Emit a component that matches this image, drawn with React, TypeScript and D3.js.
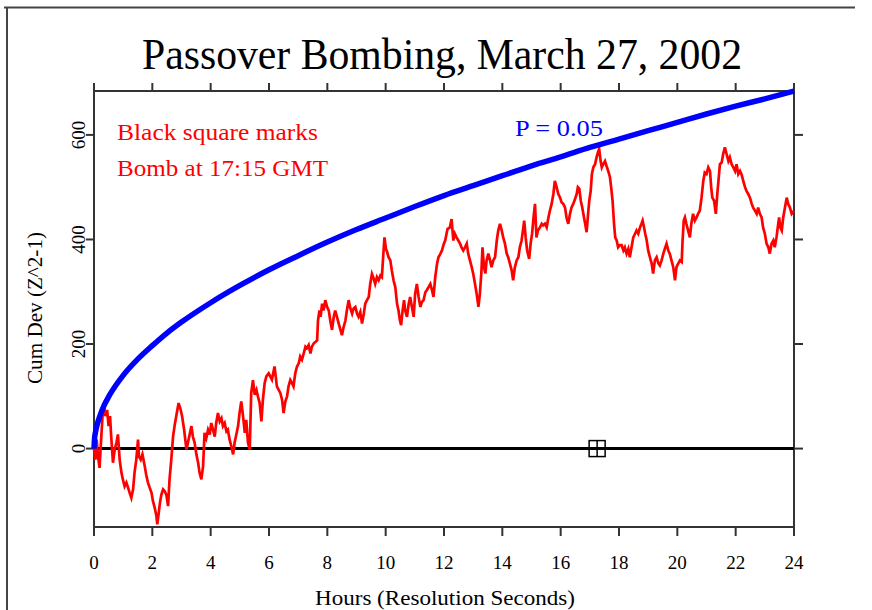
import React from "react";
import * as d3 from "d3";

const title = "Passover Bombing, March 27, 2002";
const xLabel = "Hours (Resolution Seconds)";
const yLabel = "Cum Dev (Z^2-1)";
const legendLines = ["Black square marks", "Bomb at 17:15 GMT"];
const pLabel = "P = 0.05";

const xTicks = [0, 2, 4, 6, 8, 10, 12, 14, 16, 18, 20, 22, 24];
const yTicks = [0, 200, 400, 600];
const xDomain = [0, 24];
const yDomain = [-150, 684];
const bombHour = 17.25;

const blueHours = [0, 0.02, 0.05, 0.1, 0.2, 0.35, 0.5, 0.75, 1, 1.5, 2, 2.5, 3, 4, 5, 6, 7, 8, 9, 10, 11, 12, 13, 14, 15, 16, 17, 18, 19, 20, 21, 22, 23, 24];
const blueValues = [0, 20, 31, 44, 62, 83, 99, 121, 140, 171, 197, 221, 242, 279, 312, 342, 369, 395, 419, 441, 463, 484, 503, 522, 541, 558, 576, 592, 608, 624, 640, 655, 669, 684];

const redHours = [
  0, 0.05, 0.09, 0.14, 0.19, 0.25, 0.30, 0.34, 0.39, 0.45, 0.50, 0.55, 0.59, 0.65, 0.71, 0.77, 0.82, 0.88, 0.94, 0.99,
  1.05, 1.11, 1.17, 1.22, 1.28, 1.34, 1.39, 1.45, 1.51, 1.54, 1.60, 1.66, 1.74, 1.79, 1.85, 1.91, 1.97, 2.02, 2.08, 2.14,
  2.17, 2.22, 2.26, 2.31, 2.37, 2.42, 2.48, 2.54, 2.59, 2.65, 2.71, 2.77, 2.82, 2.90, 2.96, 3.02, 3.09, 3.17, 3.22, 3.28,
  3.34, 3.39, 3.45, 3.51, 3.57, 3.62, 3.68, 3.74, 3.79, 3.85, 3.91, 3.97, 4.02, 4.08, 4.14, 4.19, 4.25, 4.31, 4.37, 4.42,
  4.48, 4.54, 4.59, 4.65, 4.71, 4.77, 4.82, 4.88, 4.94, 4.99, 5.05, 5.11, 5.17, 5.22, 5.28, 5.34, 5.39, 5.45, 5.51, 5.57,
  5.62, 5.68, 5.74, 5.79, 5.85, 5.91, 5.99, 6.10, 6.19, 6.27, 6.39, 6.45, 6.50, 6.56, 6.62, 6.67, 6.73, 6.79, 6.84, 6.90,
  6.96, 7.02, 7.07, 7.13, 7.19, 7.25, 7.30, 7.36, 7.42, 7.47, 7.53, 7.59, 7.65, 7.68, 7.73, 7.77, 7.82, 7.87, 7.93, 7.99,
  8.05, 8.10, 8.16, 8.22, 8.27, 8.33, 8.39, 8.45, 8.50, 8.56, 8.62, 8.67, 8.73, 8.79, 8.85, 8.90, 8.96, 9.02, 9.07, 9.13,
  9.19, 9.25, 9.30, 9.36, 9.42, 9.47, 9.53, 9.59, 9.64, 9.70, 9.76, 9.82, 9.87, 9.92, 9.96, 10.01, 10.05, 10.10, 10.16, 10.21,
  10.27, 10.33, 10.39, 10.44, 10.49, 10.53, 10.58, 10.63, 10.67, 10.73, 10.79, 10.84, 10.90, 10.96, 11.01, 11.07, 11.13, 11.19, 11.24, 11.30,
  11.36, 11.41, 11.47, 11.53, 11.59, 11.64, 11.70, 11.76, 11.81, 11.87, 11.93, 11.99, 12.04, 12.12, 12.20, 12.26, 12.32, 12.37, 12.43, 12.49,
  12.55, 12.60, 12.66, 12.72, 12.78, 12.83, 12.89, 12.95, 13.00, 13.06, 13.12, 13.18, 13.23, 13.28, 13.32, 13.37, 13.42, 13.46, 13.52, 13.58,
  13.63, 13.69, 13.75, 13.81, 13.86, 13.92, 13.98, 14.03, 14.09, 14.15, 14.20, 14.26, 14.32, 14.37, 14.43, 14.49, 14.55, 14.60, 14.66, 14.72,
  14.75, 14.80, 14.85, 14.92, 14.97, 15.02, 15.07, 15.12, 15.17, 15.22, 15.29, 15.35, 15.40, 15.46, 15.52, 15.58, 15.63, 15.69, 15.75, 15.80,
  15.86, 15.92, 15.98, 16.03, 16.09, 16.15, 16.20, 16.26, 16.32, 16.37, 16.43, 16.49, 16.55, 16.59, 16.64, 16.69, 16.74, 16.80, 16.84, 16.89,
  16.94, 16.98, 17.03, 17.07, 17.12, 17.18, 17.23, 17.29, 17.32, 17.37, 17.41, 17.46, 17.52, 17.57, 17.63, 17.69, 17.73, 17.78, 17.83, 17.87,
  17.92, 17.97, 18.03, 18.09, 18.15, 18.20, 18.26, 18.32, 18.37, 18.43, 18.49, 18.55, 18.60, 18.66, 18.72, 18.77, 18.81, 18.86, 18.90, 18.95,
  19.00, 19.06, 19.12, 19.17, 19.23, 19.29, 19.35, 19.40, 19.46, 19.52, 19.57, 19.63, 19.69, 19.74, 19.80, 19.86, 19.92, 19.97, 20.03, 20.09,
  20.15, 20.18, 20.22, 20.26, 20.31, 20.37, 20.43, 20.48, 20.54, 20.60, 20.66, 20.71, 20.77, 20.83, 20.89, 20.94, 21.00, 21.06, 21.12, 21.16,
  21.20, 21.26, 21.32, 21.37, 21.41, 21.46, 21.52, 21.57, 21.63, 21.69, 21.75, 21.80, 21.86, 21.92, 21.98, 22.03, 22.09, 22.15, 22.20, 22.26,
  22.32, 22.37, 22.43, 22.49, 22.55, 22.60, 22.66, 22.72, 22.77, 22.83, 22.89, 22.94, 23.00, 23.06, 23.12, 23.17, 23.23, 23.29, 23.34, 23.40,
  23.46, 23.49, 23.53, 23.58, 23.63, 23.69, 23.75, 23.80, 23.86, 23.92, 24.00
];
const redValues = [
  0, -21, 17, -15, -37, 23, 68, 84, 62, 74, 43, 62, 23, -27, -2, 11, 27, -21, -46, -59,
  -72, -65, -75, -84, -94, -78, -46, -21, 17, -15, -21, -11, -34, -50, -65, -75, -84, -100, -113, -129,
  -145, -123, -104, -88, -78, -81, -88, -110, -59, -21, 23, 46, 62, 87, 77, 62, 36, -2, 11, 27,
  43, 23, 11, -11, -27, -46, -59, -34, 30, 20, 36, 27, 49, 36, 23, 49, 68, 52, 58, 43,
  49, 33, 36, 17, 4, -11, 11, 27, 43, 68, 90, 62, 30, 55, 11, -2, 106, 131, 103, 112,
  100, 87, 52, 93, 125, 138, 144, 132, 157, 119, 106, 93, 68, 90, 100, 119, 131, 125, 119, 144,
  157, 163, 176, 170, 182, 195, 192, 198, 182, 195, 201, 204, 207, 245, 264, 252, 277, 264, 284, 271,
  264, 245, 227, 252, 264, 252, 239, 227, 217, 233, 245, 264, 284, 268, 258, 268, 271, 258, 252, 261,
  239, 258, 277, 284, 290, 315, 334, 325, 315, 328, 322, 331, 328, 372, 404, 382, 376, 366, 360, 341,
  322, 309, 277, 264, 245, 236, 264, 284, 264, 252, 277, 290, 271, 252, 296, 315, 290, 271, 280, 284,
  299, 303, 309, 315, 303, 290, 328, 353, 366, 372, 379, 391, 398, 420, 423, 439, 398, 411, 404, 398,
  392, 385, 379, 385, 392, 373, 360, 347, 335, 316, 296, 271, 296, 335, 385, 347, 335, 360, 373, 360,
  347, 360, 366, 398, 417, 430, 417, 404, 392, 373, 366, 354, 341, 322, 347, 360, 366, 385, 398, 423,
  436, 404, 379, 363, 392, 411, 442, 468, 404, 417, 423, 430, 427, 430, 423, 442, 455, 468, 487, 512,
  500, 487, 480, 471, 468, 461, 442, 430, 449, 461, 468, 477, 487, 500, 497, 474, 461, 442, 430, 414,
  449, 474, 493, 525, 538, 544, 557, 569, 573, 550, 538, 544, 550, 541, 531, 519, 500, 474, 430, 404,
  398, 385, 389, 389, 379, 385, 373, 382, 366, 385, 404, 411, 417, 411, 423, 430, 436, 423, 411, 398,
  379, 366, 354, 335, 360, 366, 354, 350, 360, 373, 382, 392, 379, 373, 360, 347, 322, 347, 354, 360,
  357, 398, 436, 442, 430, 417, 404, 430, 449, 436, 442, 449, 455, 480, 512, 528, 525, 538, 531, 500,
  480, 474, 449, 487, 512, 544, 547, 563, 576, 563, 550, 557, 544, 538, 531, 544, 525, 531, 525, 512,
  500, 493, 487, 480, 468, 461, 455, 449, 461, 449, 442, 423, 411, 392, 385, 373, 392, 398, 385, 404,
  430, 442, 423, 417, 442, 461, 480, 468, 461, 449, 455
];

const W = 872;
const H = 610;
const M = { left: 94, right: 794, top: 91, bottom: 527 };
const SERIF = "'Liberation Serif', 'Times New Roman', Times, serif";
const AXIS = "#333";

export default function App() {
  const x = d3.scaleLinear().domain(xDomain).range([M.left, M.right]);
  const y = d3.scaleLinear().domain(yDomain).range([M.bottom, M.top]);

  const blueData = blueHours.map((h, i) => [h, blueValues[i]] as [number, number]);
  const redData = redHours.map((h, i) => [h, redValues[i]] as [number, number]);

  const blueLine = d3.line<[number, number]>().x((d) => x(d[0])).y((d) => y(d[1])).curve(d3.curveMonotoneX);
  const redLine = d3.line<[number, number]>().x((d) => x(d[0])).y((d) => y(d[1]));

  const bx = x(bombHour);
  const by = y(0);
  const sq = 8;

  return (
    <svg width={W} height={H} style={{ position: "absolute", left: 0, top: 0, background: "#fff" }}>
      <rect x={0} y={0} width={W} height={H} fill="#fff" />
      {/* outer frame */}
      <line x1={4} x2={855} y1={7.5} y2={7.5} stroke="#444" strokeWidth={2} />
      <line x1={7} x2={7} y1={7} y2={H} stroke="#444" strokeWidth={2} />

      <text x={142} y={69} fontFamily={SERIF} fontSize={44} textLength={600} lengthAdjust="spacingAndGlyphs" fill="#000">
        {title}
      </text>

      {/* plot box */}
      <rect x={M.left} y={M.top} width={M.right - M.left} height={M.bottom - M.top} fill="none" stroke={AXIS} strokeWidth={2} />
      {xTicks.map((t) => (
        <g key={"xt" + t}>
          <line x1={x(t)} x2={x(t)} y1={M.bottom} y2={M.bottom + 9} stroke={AXIS} strokeWidth={2} />
          <line x1={x(t)} x2={x(t)} y1={M.top} y2={M.top - 8} stroke={AXIS} strokeWidth={2} />
          <text x={x(t)} y={569} textAnchor="middle" fontFamily={SERIF} fontSize={19} fill="#000">
            {t}
          </text>
        </g>
      ))}
      {yTicks.map((t) => (
        <g key={"yt" + t}>
          <line x1={M.left} x2={M.left - 8} y1={y(t)} y2={y(t)} stroke={AXIS} strokeWidth={2} />
          <line x1={M.right} x2={M.right + 9} y1={y(t)} y2={y(t)} stroke={AXIS} strokeWidth={2} />
          <text transform={`translate(85,${y(t)}) rotate(-90)`} textAnchor="middle" fontFamily={SERIF} fontSize={19} fill="#000">
            {t}
          </text>
        </g>
      ))}

      <text x={445} y={605} textAnchor="middle" fontFamily={SERIF} fontSize={21} textLength={260} lengthAdjust="spacingAndGlyphs" fill="#000">
        {xLabel}
      </text>
      <text transform={`translate(42,308) rotate(-90)`} textAnchor="middle" fontFamily={SERIF} fontSize={20} textLength={152} lengthAdjust="spacingAndGlyphs" fill="#000">
        {yLabel}
      </text>

      {/* zero line */}
      <line x1={x(0)} x2={x(24)} y1={y(0)} y2={y(0)} stroke="#000" strokeWidth={3} />

      {/* data */}
      <path d={redLine(redData) || ""} fill="none" stroke="#ff0000" strokeWidth={2.7} strokeLinejoin="miter" />
      <path d={blueLine(blueData) || ""} fill="none" stroke="#0000ff" strokeWidth={5.5} />

      {/* bomb marker */}
      <g stroke="#000" strokeWidth={1.5} fill="none">
        <rect x={bx - sq} y={by - sq} width={sq * 2} height={sq * 2} />
        <line x1={bx} x2={bx} y1={by - sq} y2={by + sq} />
      </g>

      {/* legends */}
      {legendLines.map((s, i) => (
        <text key={s} x={117} y={140 + i * 36} fontFamily={SERIF} fontSize={23} textLength={i === 0 ? 201 : 211} lengthAdjust="spacingAndGlyphs" fill="#ff0000">
          {s}
        </text>
      ))}
      <text x={515} y={136} fontFamily={SERIF} fontSize={23} textLength={88} lengthAdjust="spacingAndGlyphs" fill="#0000ff">
        {pLabel}
      </text>
    </svg>
  );
}
